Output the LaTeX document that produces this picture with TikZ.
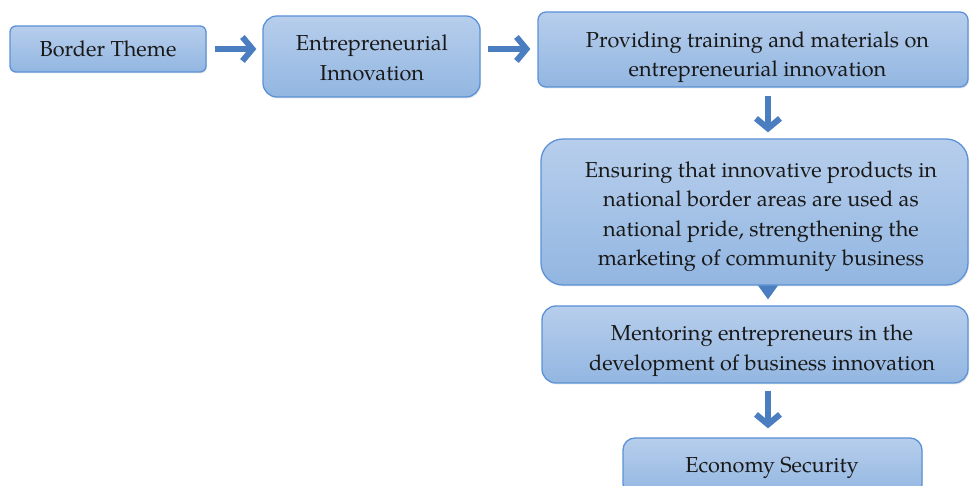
\documentclass[tikz,border=0pt]{standalone}
\usepackage{fontspec}
\setmainfont{TeX Gyre Pagella}
\usetikzlibrary{arrows.meta,shadows}
\definecolor{boxtop}{RGB}{183,206,236}
\definecolor{boxbot}{RGB}{146,182,225}
\definecolor{boxline}{RGB}{92,146,214}
\definecolor{arrowc}{RGB}{74,126,193}
\tikzset{
  box/.style={draw=boxline, line width=1.3pt, top color=boxtop, bottom color=boxbot,
    inner sep=0pt, drop shadow={opacity=0.18, shadow xshift=1pt, shadow yshift=-1.5pt}},
  txt/.style={align=center, inner sep=0pt, font=\fontsize{21.7}{29.5}\selectfont, text=black!90},
  flow/.style={draw=arrowc, line width=6pt, -{Straight Barb[length=10pt,width=24pt,line width=6pt]}},
  tipflow/.style={draw=arrowc, line width=1pt, -{Triangle[length=14pt,width=20pt]}, fill=arrowc}
}
\begin{document}
\begin{tikzpicture}[x=1pt,y=1pt]
\useasboundingbox (0,0) rectangle (970,486);
\clip (0,0) rectangle (970,486);
\fill[white] (0,0) rectangle (970,486);
% boxes
\node[box, rounded corners=6pt, minimum width=196pt, minimum height=46pt] (b1) at (108,437) {};
\node[box, rounded corners=14pt, minimum width=217pt, minimum height=81pt] (b2) at (371.5,429.5) {};
\node[box, rounded corners=8pt, minimum width=430pt, minimum height=75pt] (b3) at (753,436.5) {};
\node[box, rounded corners=22pt, minimum width=427pt, minimum height=146pt] (b4) at (754.5,274) {};
\node[box, rounded corners=14pt, minimum width=426pt, minimum height=77pt] (b5) at (755,141.5) {};
\node[box, rounded corners=12pt, minimum width=299pt, minimum height=58pt] (b6) at (772.5,19) {};
% texts
\node[txt] (t1) at (108,437) {Border Theme};
\node[txt] (t2) at (372,428) {Entrepreneurial\\Innovation};
\node[txt] (t3) at (757.5,429) {Providing training and materials on\\entrepreneurial innovation};
\node[txt] (t4) at (761,269.5) {Ensuring that innovative products in\\national border areas are used as\\national pride, strengthening the\\marketing of community business};
\node[txt] (t5) at (762,135.5) {Mentoring entrepreneurs in the\\development of business innovation};
\node[txt] (t6) at (772,18) {Economy Security};
% connectors
\draw[flow, shorten <=8pt, shorten >=6pt] (b1.east) -- (b1.east -| b2.west);
\draw[flow, shorten <=7pt, shorten >=7pt] (b1.east -| b2.east) -- (b1.east -| b3.west);
\draw[flow, shorten <=8pt, shorten >=6pt] (b3.south -| 768,0) -- (b4.north -| 768,0);
\draw[tipflow, shorten >=6pt] (b4.south -| 768,0) -- (b5.north -| 768,0);
\draw[flow, shorten <=7pt, shorten >=9pt] (b5.south -| 768,0) -- (b6.north -| 768,0);
\end{tikzpicture}
\end{document}
